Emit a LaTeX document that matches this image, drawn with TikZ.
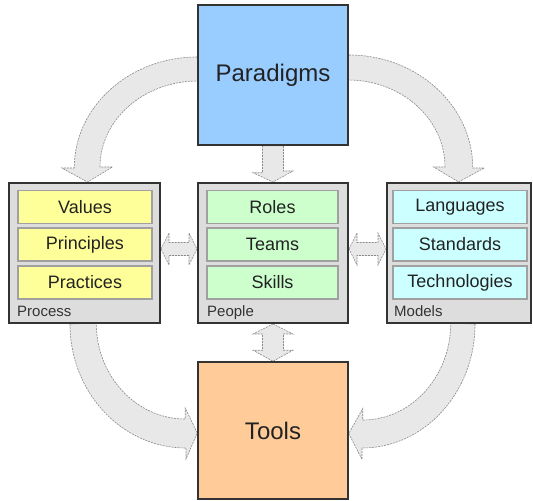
\documentclass[tikz,border=0pt]{standalone}
\usepackage{fontspec}
\setmainfont{Liberation Sans}
\usetikzlibrary{calc,backgrounds}

\definecolor{paraBlue}{HTML}{99CCFF}
\definecolor{toolOrange}{HTML}{FFCC99}
\definecolor{itemYellow}{HTML}{FFFF99}
\definecolor{itemGreen}{HTML}{CCFFCC}
\definecolor{itemCyan}{HTML}{CCFFFF}
\definecolor{groupGray}{HTML}{DDDDDD}
\definecolor{boxLine}{HTML}{333333}
\definecolor{itemLine}{HTML}{A0A0A0}
\definecolor{txt}{HTML}{222222}
\definecolor{labelTxt}{HTML}{333333}
\definecolor{arrowFill}{HTML}{E8E8E8}
\definecolor{arrowLine}{HTML}{8A8A8A}

\begin{document}
\begin{tikzpicture}[x=1bp,y=-1bp,
  bigbox/.style={draw=boxLine, line width=1.5bp, minimum width=150bp,
    minimum height=140bp, inner sep=0pt, text=txt,
    font=\fontsize{24bp}{28bp}\selectfont},
  groupbox/.style={draw=boxLine, line width=2bp, fill=groupGray,
    minimum height=140bp, inner sep=0pt},
  itembox/.style={draw=itemLine, line width=1.2bp, minimum height=33bp,
    inner sep=0pt, text=txt, font=\fontsize{18bp}{22bp}\selectfont},
  grouplabel/.style={anchor=base west, inner sep=0pt, text=labelTxt,
    font=\fontsize{15bp}{18bp}\selectfont},
  fatarrow/.style={fill=arrowFill, draw=arrowLine, line width=0.6bp,
    dash pattern=on 2bp off 1bp}]
\useasboundingbox (0,0) rectangle (533,501);

% main boxes
\node[bigbox, fill=paraBlue] (paradigms) at (273,75) {Paradigms};
\node[bigbox, fill=toolOrange, minimum height=137bp] (tools) at (273,430.5) {Tools};

% group containers
\node[groupbox, minimum width=151bp] (process) at (84.5,253) {};
\node[groupbox, minimum width=150bp] (people) at (273,253) {};
\node[groupbox, minimum width=144bp] (models) at (459,253) {};

% Process items
\node[itembox, fill=itemYellow, minimum width=134bp] (values) at (85,207) {Values};
\node[itembox, fill=itemYellow, minimum width=134bp] (principles) at (85,244.5) {Principles};
\node[itembox, fill=itemYellow, minimum width=134bp] (practices) at (85,282.5) {Practices};
\node[grouplabel] (processlbl) at (17,316) {Process};

% People items
\node[itembox, fill=itemGreen, minimum width=131bp] (roles) at (272.5,207) {Roles};
\node[itembox, fill=itemGreen, minimum width=131bp] (teams) at (272.5,244.5) {Teams};
\node[itembox, fill=itemGreen, minimum width=131bp] (skills) at (272.5,282.5) {Skills};
\node[grouplabel] (peoplelbl) at (207,316) {People};

% Models items
\node[itembox, fill=itemCyan, minimum width=134bp] (languages) at (460,207) {Languages};
\node[itembox, fill=itemCyan, minimum width=134bp] (standards) at (460,244.5) {Standards};
\node[itembox, fill=itemCyan, minimum width=134bp] (technologies) at (460,282.5) {Technologies};
\node[grouplabel] (modelslbl) at (394,316) {Models};

\begin{scope}[on background layer]
% Paradigms -> Process (curved)
\draw[fatarrow] ($(paradigms.west)+(0,-18)$)
  arc[start angle=270, end angle=180, x radius=123, y radius=111]
  -- ++(-12.5,0) -- ($(process.north)+(3,0)$) -- ++(25,-15) -- ++(-12.5,0)
  arc[start angle=180, end angle=270, x radius=98, y radius=86] -- cycle;

% Paradigms -> Models (curved)
\draw[fatarrow] ($(paradigms.east)+(0,-20)$)
  arc[start angle=270, end angle=360, x radius=124, y radius=113]
  -- ++(11.5,0) -- ($(models.north)+(-0.5,0)$) -- ++(-25,-15) -- ++(11.5,0)
  arc[start angle=0, end angle=-90, x radius=97, y radius=87] -- cycle;

% Process -> Tools (curved)
\draw[fatarrow] ($(process.south)+(-14.5,0)$)
  arc[start angle=180, end angle=90, x radius=116, y radius=124]
  -- ++(0,11) -- ($(tools.west)+(0,2.5)$) -- ++(-12,-25) -- ++(0,11)
  arc[start angle=90, end angle=180, x radius=89, y radius=96] -- cycle;

% Models -> Tools (curved)
\draw[fatarrow] ($(models.south)+(16,0)$)
  arc[start angle=0, end angle=90, x radius=113, y radius=124]
  -- ++(0,11.5) -- ($(tools.east)+(0,3)$) -- ++(14,-25) -- ++(0,11.5)
  arc[start angle=90, end angle=0, x radius=88, y radius=97] -- cycle;

% Paradigms -> People
\draw[fatarrow] ($(paradigms.south)+(-10.5,0)$) -- ++(0,27) -- ++(-9.5,0)
  -- (people.north) -- ++(20,-11) -- ++(-9.5,0)
  -- ($(paradigms.south)+(10.5,0)$) -- cycle;

% Process <-> People
\coordinate (pl) at ($(process.east)+(0,-4)$);
\coordinate (pr) at ($(people.west)+(0,-4)$);
\draw[fatarrow] (pl) -- ++(8,-16) -- ++(0,9.5) -- ($(pr)+(-8,-6.5)$)
  -- ++(0,-9.5) -- (pr) -- ++(-8,16) -- ++(0,-9.5) -- ($(pl)+(8,6.5)$)
  -- ++(0,9.5) -- cycle;

% People <-> Models
\coordinate (ml) at ($(people.east)+(0,-4)$);
\coordinate (mr) at ($(models.west)+(0,-4)$);
\draw[fatarrow] (ml) -- ++(8,-16) -- ++(0,9.5) -- ($(mr)+(-8,-6.5)$)
  -- ++(0,-9.5) -- (mr) -- ++(-8,16) -- ++(0,-9.5) -- ($(ml)+(8,6.5)$)
  -- ++(0,9.5) -- cycle;

% People <-> Tools
\draw[fatarrow] (people.south) -- ++(20,10) -- ++(-9.5,0)
  -- ($(tools.north)+(10.5,-11)$) -- ++(9.5,0) -- (tools.north)
  -- ++(-20,-11) -- ++(9.5,0) -- ($(people.south)+(-10.5,10)$)
  -- ++(-9.5,0) -- cycle;
\end{scope}
\end{tikzpicture}
\end{document}
